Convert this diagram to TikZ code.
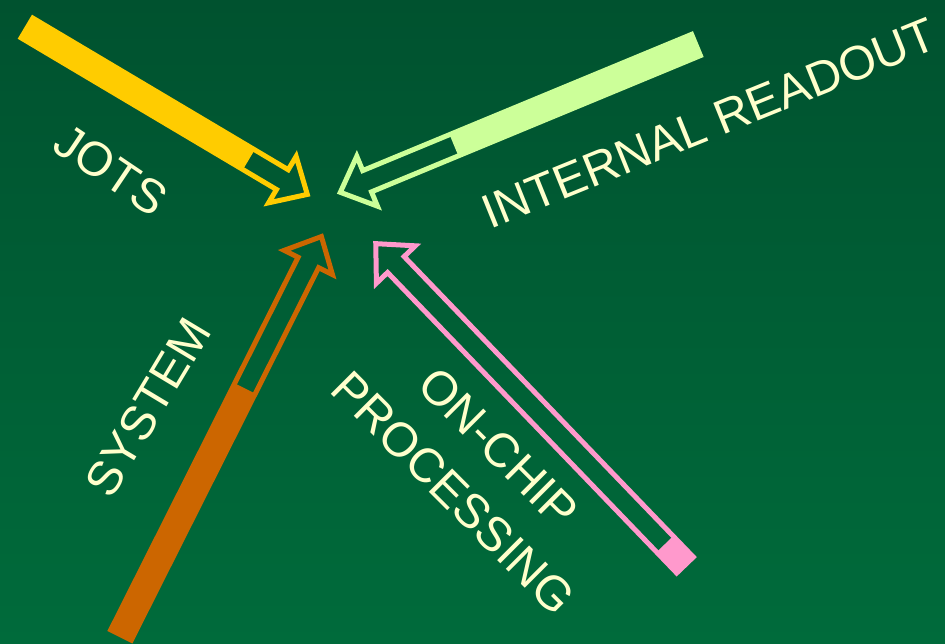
\documentclass[tikz,border=0pt]{standalone}
\usepackage{fontspec}
\setmainfont{Liberation Sans}
\definecolor{bgtop}{HTML}{00522F}
\definecolor{bgbot}{HTML}{006B3B}
\definecolor{txt}{HTML}{FFFFCC}
\definecolor{jots}{HTML}{FFCC00}
\definecolor{readout}{HTML}{CCFF99}
\definecolor{system}{HTML}{CC6600}
\definecolor{onchip}{HTML}{FF99CC}
\tikzset{
  lbl/.style={text=txt, font=\fontsize{48}{64}\selectfont, inner sep=0pt, align=center},
  arrowline/.style={line width=5pt, miter limit=10, line join=miter}
}
% #1 colour, #2 tail coordinate, #3 angle, #4 length, #5 filled length
\newcommand\blockarrow[5]{%
  \begin{scope}[shift={#2}, rotate=#3]
    \fill[#1] (0,-11.5) rectangle (#5,11.5);
    \draw[#1, arrowline] (0,-11.5) -- (#4-29,-11.5) -- (#4-29,-27) -- (#4,0)
      -- (#4-29,27) -- (#4-29,11.5) -- (0,11.5) -- cycle;
  \end{scope}}
\begin{document}
\begin{tikzpicture}[x=1pt, y=-1pt]
  \shade[top color=bgtop, bottom color=bgbot] (0,0) rectangle (945,644);
  \useasboundingbox (0,0) rectangle (945,644);
  \coordinate (tjots) at (27,28);
  \coordinate (tread) at (696,45);
  \coordinate (tsys) at (121,635);
  \coordinate (tchip) at (685,565);
  \blockarrow{jots}{(tjots)}{-30.7}{326}{258}
  \blockarrow{readout}{(tread)}{-157.5}{385}{262}
  \blockarrow{system}{(tsys)}{63.3}{446}{276}
  \blockarrow{onchip}{(tchip)}{133.9}{446}{29}
  \node[lbl, rotate=-34] (ljots) at (111,170) {JOTS};
  \node[lbl, rotate=22] (lread) at (709,123) {INTERNAL READOUT};
  \node[lbl, rotate=59] (lsys) at (148,407) {SYSTEM};
  \node[lbl, rotate=-45] (lchip) at (476,470) {ON-CHIP\\PROCESSING};
\end{tikzpicture}
\end{document}
